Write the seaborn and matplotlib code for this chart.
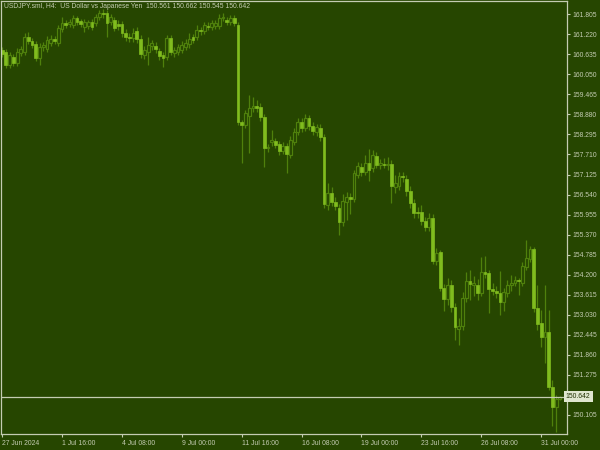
import matplotlib
matplotlib.use("Agg")
import matplotlib.pyplot as plt
import matplotlib.transforms as mtransforms
import numpy as np
import pandas as pd
import seaborn as sns

# USDJPY H4 bars, 27 Jun - 31 Jul 2024
opens = [
    160.755, 160.697, 160.317, 160.551, 160.376, 160.667, 160.697, 161.134, 161.017, 160.930,
    160.521, 160.843, 160.784, 160.959, 161.076, 160.959, 161.368, 161.543, 161.514, 161.484,
    161.689, 161.601, 161.426, 161.455, 161.572, 161.543, 161.718, 161.835, 161.835, 161.572,
    161.630, 161.514, 161.514, 161.251, 161.134, 161.105, 161.309, 161.076, 160.609, 160.697,
    160.872, 160.872, 160.726, 160.609, 160.551, 161.105, 160.667, 160.697, 160.755, 160.843,
    160.930, 161.134, 161.134, 161.339, 161.309, 161.455, 161.426, 161.455, 161.455, 161.689,
    161.630, 161.572, 161.689, 161.484, 158.654, 158.566, 158.829, 159.063, 159.121, 159.092,
    158.800, 157.895, 158.071, 158.100, 158.012, 157.808, 157.954, 157.691, 158.071, 158.363,
    158.654, 158.479, 158.771, 158.537, 158.363, 158.479, 158.216, 156.232, 156.582, 156.319,
    156.145, 155.736, 156.319, 156.466, 156.407, 157.107, 157.341, 157.195, 157.457, 157.312,
    157.662, 157.399, 157.428, 157.399, 157.428, 156.757, 156.787, 157.078, 156.991, 156.641,
    156.290, 156.028, 156.028, 155.765, 155.590, 155.853, 154.598, 154.860, 153.810, 153.489,
    153.898, 153.256, 152.614, 152.701, 153.518, 154.014, 153.898, 153.898, 153.664, 154.277,
    154.248, 153.781, 153.723, 153.664, 153.402, 153.664, 153.898, 153.956, 154.044, 153.956,
    154.423, 154.656, 154.948, 153.227, 152.789, 152.380, 152.526, 150.921, 150.338, 150.561,
]
highs = [
    160.843, 160.784, 160.697, 160.638, 160.813, 160.872, 161.251, 161.280, 161.105, 161.017,
    160.959, 160.988, 161.163, 161.193, 161.163, 161.484, 161.718, 161.630, 161.660, 161.776,
    161.747, 161.660, 161.660, 161.630, 161.660, 161.805, 161.922, 161.951, 161.922, 161.805,
    161.718, 161.630, 161.601, 161.368, 161.251, 161.397, 161.426, 161.193, 160.872, 161.134,
    161.047, 160.988, 160.813, 160.697, 161.193, 161.193, 160.843, 160.930, 161.017, 161.076,
    161.251, 161.222, 161.484, 161.426, 161.572, 161.572, 161.630, 161.630, 161.805, 161.835,
    161.718, 161.776, 161.776, 161.572, 158.712, 159.004, 159.442, 159.384, 159.296, 159.208,
    158.888, 158.012, 158.421, 158.187, 158.100, 158.071, 158.041, 158.246, 158.479, 158.771,
    158.771, 158.888, 158.858, 158.654, 158.596, 158.596, 158.304, 156.874, 156.757, 156.466,
    156.261, 156.553, 156.611, 156.582, 157.253, 157.487, 157.457, 157.691, 157.866, 157.837,
    157.779, 157.574, 157.604, 157.633, 157.545, 157.107, 157.195, 157.195, 157.107, 156.787,
    156.407, 156.174, 156.232, 155.882, 155.999, 155.969, 154.977, 154.919, 153.927, 154.102,
    154.044, 153.372, 152.935, 153.693, 154.277, 154.335, 154.160, 154.073, 154.715, 154.744,
    154.335, 153.956, 153.869, 154.306, 153.810, 154.044, 154.189, 154.160, 154.102, 154.569,
    155.211, 155.036, 155.007, 153.898, 153.168, 153.898, 153.168, 151.126, 150.688, 150.662,
]
lows = [
    160.551, 160.230, 160.230, 160.288, 160.288, 160.580, 160.609, 160.930, 160.813, 160.434,
    160.317, 160.726, 160.697, 160.872, 160.930, 160.872, 161.280, 161.397, 161.426, 161.397,
    161.484, 161.426, 161.280, 161.368, 161.339, 161.455, 161.630, 161.689, 161.134, 161.484,
    161.309, 161.339, 161.134, 161.017, 160.988, 160.988, 160.959, 160.521, 160.492, 160.317,
    160.755, 160.667, 160.463, 160.259, 160.463, 160.609, 160.551, 160.609, 160.667, 160.755,
    160.813, 160.959, 161.047, 161.193, 161.222, 161.339, 161.339, 161.368, 161.368, 161.601,
    161.484, 161.484, 161.455, 158.566, 157.458, 158.479, 157.750, 158.946, 158.946, 158.683,
    157.341, 157.779, 157.954, 157.896, 157.691, 157.720, 157.166, 157.604, 157.983, 158.275,
    158.363, 158.392, 158.421, 158.275, 158.246, 158.100, 156.145, 156.086, 156.203, 156.086,
    155.357, 155.619, 155.794, 155.969, 156.319, 157.020, 157.078, 157.107, 156.932, 157.195,
    157.312, 157.282, 157.312, 157.253, 156.290, 156.582, 156.670, 156.903, 156.495, 156.145,
    155.853, 155.853, 155.648, 155.473, 155.473, 154.510, 154.481, 153.723, 153.139, 153.314,
    153.110, 152.293, 152.147, 152.585, 153.402, 153.460, 153.577, 153.460, 153.577, 154.102,
    153.081, 153.606, 153.518, 153.022, 153.139, 153.548, 153.723, 153.869, 153.606, 153.869,
    154.335, 154.569, 153.110, 152.585, 152.088, 151.621, 150.834, 149.783, 149.608, 150.545,
]
closes = [
    160.638, 160.317, 160.609, 160.376, 160.697, 160.784, 161.134, 161.017, 160.901, 160.521,
    160.843, 160.901, 161.047, 161.076, 161.017, 161.397, 161.543, 161.484, 161.572, 161.689,
    161.572, 161.514, 161.572, 161.572, 161.426, 161.718, 161.835, 161.805, 161.543, 161.718,
    161.397, 161.455, 161.251, 161.134, 161.105, 161.251, 161.076, 160.638, 160.755, 160.901,
    160.959, 160.784, 160.580, 160.521, 161.105, 160.697, 160.755, 160.843, 160.901, 160.959,
    161.076, 161.047, 161.339, 161.309, 161.484, 161.426, 161.543, 161.543, 161.689, 161.718,
    161.572, 161.689, 161.543, 158.654, 158.566, 158.917, 159.063, 159.121, 159.063, 158.800,
    157.896, 157.925, 158.129, 157.983, 157.808, 157.954, 157.720, 158.129, 158.363, 158.654,
    158.479, 158.771, 158.537, 158.392, 158.508, 158.216, 156.261, 156.582, 156.319, 156.203,
    155.736, 156.349, 156.466, 156.407, 157.166, 157.370, 157.195, 157.457, 157.253, 157.691,
    157.399, 157.457, 157.399, 157.428, 156.787, 156.874, 157.078, 157.049, 156.641, 156.290,
    155.999, 155.999, 155.765, 155.590, 155.853, 154.598, 154.831, 153.810, 153.489, 153.898,
    153.256, 152.672, 152.701, 153.518, 154.014, 153.927, 153.956, 153.664, 154.277, 154.218,
    153.781, 153.723, 153.664, 153.402, 153.693, 153.898, 153.956, 154.044, 154.014, 154.452,
    154.685, 154.948, 153.227, 152.760, 152.380, 152.526, 150.921, 150.338, 150.561, 150.642,
]

price_ticks = [150.105, 150.690, 151.275, 151.860, 152.445, 153.030, 153.615, 154.200,
               154.785, 155.370, 155.955, 156.540, 157.125, 157.710, 158.295, 158.880,
               159.465, 160.050, 160.635, 161.220, 161.805]
# 150.690 sits under the bid label in the terminal, so it has no visible text
price_labels = ["" if p == 150.690 else f"{p:.3f}" for p in price_ticks]
time_tick_bars = [0, 16, 32, 48, 64, 80, 96, 112, 128, 144]
time_tick_labels = ["27 Jun 2024", "1 Jul 16:00", "4 Jul 08:00", "9 Jul 00:00", "11 Jul 16:00",
                    "16 Jul 08:00", "19 Jul 00:00", "23 Jul 16:00", "26 Jul 08:00", "31 Jul 00:00"]
bid = 150.642
title = "USDJPY.sml, H4:  US Dollar vs Japanese Yen  150.561 150.662 150.545 150.642"

BG = "#264600"
BEAR = "#80bc1e"
WICK = "#4f800c"
FG = "#c4ccb2"
FS = 4.9

sns.set_theme(style="dark", rc={"axes.facecolor": BG, "figure.facecolor": BG})
plt.rcParams["font.family"] = ["Liberation Sans", "DejaVu Sans"]

df = pd.DataFrame({"open": opens, "high": highs, "low": lows, "close": closes})
df["bar"] = np.arange(len(df))
df["bull"] = df["close"] >= df["open"]
df["bottom"] = df[["open", "close"]].min(axis=1)
df["body"] = (df["close"] - df["open"]).abs().clip(lower=0.012)

fig = plt.figure(figsize=(6, 4.5), dpi=100)
ax = fig.add_axes([1 / 600, 16 / 450, 566 / 600, 433 / 450])

# wicks, then bodies (bull = hollow outline, bear = filled)
ax.vlines(df["bar"], df["low"], df["high"], colors=WICK, linewidth=0.9, zorder=1)
up = df[df["bull"]]
dn = df[~df["bull"]]
ax.bar(up["bar"], up["body"], bottom=up["bottom"], width=0.75,
       facecolor=BG, edgecolor=WICK, linewidth=0.85, zorder=2)
ax.bar(dn["bar"], dn["body"], bottom=dn["bottom"], width=0.75,
       facecolor=BEAR, edgecolor=BEAR, linewidth=0.5, zorder=2)

# bid line + price label
ax.axhline(bid, color=FG, linewidth=0.9, zorder=3)
trans = mtransforms.blended_transform_factory(ax.transAxes, ax.transData)
ax.text(1.0 - 0.002, bid, f"{bid:.3f}", transform=trans, ha="left", va="center",
        fontsize=FS, color="#1f3000", clip_on=False, zorder=5,
        bbox=dict(boxstyle="square,pad=0.3", facecolor="#dfe6cf", edgecolor="none"))

ax.set_xlim(-0.3, 150.9)
ax.set_ylim(149.55, 162.19)
ax.grid(False)

ax.yaxis.tick_right()
ax.set_yticks(price_ticks)
ax.set_yticklabels(price_labels)
ax.set_xticks(time_tick_bars)
ax.set_xticklabels(time_tick_labels, ha="left")
ax.tick_params(axis="both", colors=FG, labelsize=FS, length=2.5, width=0.8, pad=1.5,
               labelcolor=FG, direction="out")
ax.tick_params(axis="y", right=True, left=False)
ax.tick_params(axis="x", bottom=True)
for s in ax.spines.values():
    s.set_color(FG)
    s.set_linewidth(0.9)
    s.set_visible(True)

fig.text(4 / 600, 1 - 7 / 450, title, color=FG, fontsize=FS, ha="left", va="center")

fig.savefig("out.png", dpi=100, facecolor=BG)
